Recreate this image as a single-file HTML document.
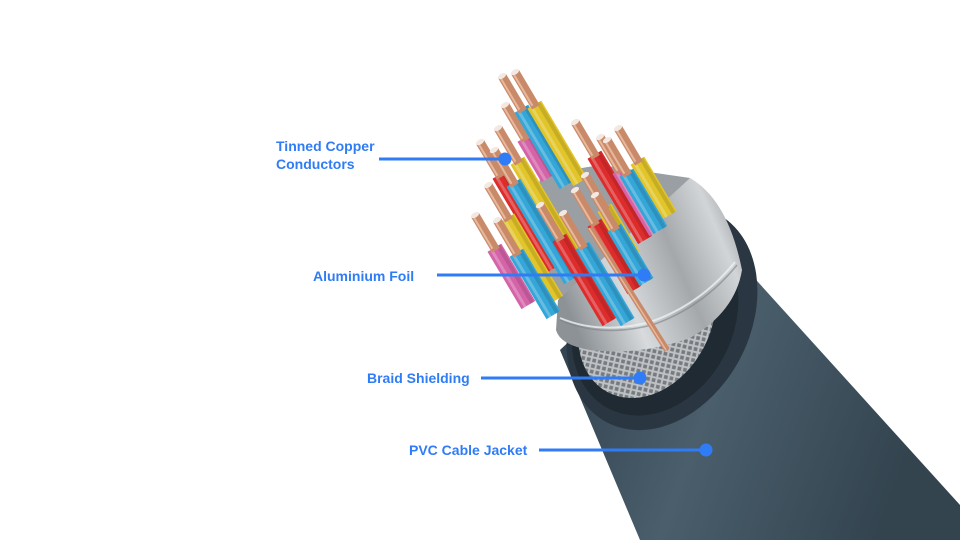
<!DOCTYPE html>
<html><head><meta charset="utf-8"><style>
html,body{margin:0;padding:0;background:#fff}
.l{position:absolute;color:#2f7cf6;font:bold 14px "Liberation Sans",sans-serif;line-height:18px;white-space:nowrap}
</style></head><body>
<div style="position:relative;width:960px;height:540px;overflow:hidden">
<svg width="960" height="540" viewBox="0 0 960 540" style="position:absolute;left:0;top:0">
<defs>
<linearGradient id="jk" x1="0" y1="0" x2="1" y2="0.3">
<stop offset="0" stop-color="#2d3c48"/><stop offset="0.5" stop-color="#4a5e6c"/><stop offset="1" stop-color="#33444f"/>
</linearGradient>
<linearGradient id="fo" x1="0" y1="0.6" x2="1" y2="0.2">
<stop offset="0" stop-color="#8d9296"/><stop offset="0.3" stop-color="#d8dbdd"/><stop offset="0.6" stop-color="#a4a8ab"/><stop offset="0.85" stop-color="#d2d5d7"/><stop offset="1" stop-color="#9a9ea2"/>
</linearGradient>
<pattern id="br" width="8" height="8" patternUnits="userSpaceOnUse" patternTransform="rotate(30)">
<rect width="8" height="8" fill="#767b80"/><path d="M0 0L8 8M8 0L0 8" stroke="#bfc2c5" stroke-width="2"/>
</pattern>
</defs>
<polygon points="560,350 700,218 960,505 960,540 640,540" fill="url(#jk)"/>
<ellipse cx="662" cy="318" rx="118" ry="88" transform="rotate(-62 662 318)" fill="#2a3742"/>
<ellipse cx="655" cy="320" rx="100" ry="78" transform="rotate(-62 655 320)" fill="#1f2a33"/>
<ellipse cx="647" cy="318" rx="84" ry="64" transform="rotate(-62 647 318)" fill="url(#br)"/>
<!-- inner bundles behind wires -->
<polygon points="540,175 600,165 690,178 600,290 560,300 535,250" fill="#9a9fa3"/>
<!-- foil -->
<path d="M558,300 L690,178 Q728,200 742,270 Q735,312 690,338 Q640,356 590,350 Q560,345 556,330 Z" fill="url(#fo)"/>
<path d="M560,318 Q600,335 650,322 Q700,305 735,262" fill="none" stroke="#eef0f1" stroke-width="2" opacity="0.8"/>
<path d="M560,320 Q600,338 652,325 Q702,308 737,265" fill="none" stroke="#7d8286" stroke-width="1.5" opacity="0.6"/>
<g id="w"></g>
<line x1="590" y1="228" x2="667" y2="350" stroke="#c98a6a" stroke-width="6"/>
<line x1="589" y1="228" x2="666" y2="350" stroke="#e8b89c" stroke-width="1.5"/>
</svg>
<div class="l" style="left:276px;top:137px">Tinned Copper<br>Conductors</div>
<div class="l" style="left:313px;top:267px">Aluminium Foil</div>
<div class="l" style="left:367px;top:369px">Braid Shielding</div>
<div class="l" style="left:409px;top:441px">PVC Cable Jacket</div>
<svg width="960" height="540" style="position:absolute;left:0;top:0">
<g fill="#2f7cf6" stroke="#2f7cf6" stroke-width="3">
<line x1="379" y1="159" x2="505" y2="159"/><circle cx="505" cy="159" r="5"/>
<line x1="437" y1="275" x2="644" y2="275"/><circle cx="644" cy="275" r="5"/>
<line x1="481" y1="378" x2="640" y2="378"/><circle cx="640" cy="378" r="5"/>
<line x1="539" y1="450" x2="706" y2="450"/><circle cx="706" cy="450" r="5"/>
</g></svg>
<script>
var g=document.getElementById('w'),ns='http://www.w3.org/2000/svg';
var dx=0.51,dy=0.86;
var C={y:'#e2c52a',b:'#35a6d8',p:'#d563a8',r:'#dd2c2c'};
var W=[[505,105,'p',178],[502,76,'b',185],[515,72,'y',182],[575,122,'r',240],[600,137,'p',232],[618,128,'y',215],[607,140,'b',230],[585,175,'y',255],[498,128,'y',260],[480,142,'r',268],[494,150,'b',280],[575,190,'r',290],[595,195,'b',282],[488,185,'y',300],[475,215,'p',305],[497,220,'b',315],[540,205,'r',322],[563,213,'b',322]];
function ln(x1,y1,x2,y2,c,w){var l=document.createElementNS(ns,'line');l.setAttribute('x1',x1);l.setAttribute('y1',y1);l.setAttribute('x2',x2);l.setAttribute('y2',y2);l.setAttribute('stroke',c);l.setAttribute('stroke-width',w);g.appendChild(l);}
W.forEach(function(a){var x=a[0],y=a[1],cl=38;var x2=x+dx*cl,y2=y+dy*cl;var L=(a[3]-y2)/dy;
ln(x2,y2,x2+dx*L,y2+dy*L,C[a[2]],16);
ln(x2-3,y2+2,x2+dx*L-3,y2+dy*L+2,'rgba(255,255,255,0.25)',3);
ln(x2+4,y2-2,x2+dx*L+4,y2+dy*L-2,'rgba(0,0,0,0.12)',4);
ln(x,y,x2+dx*3,y2+dy*3,'#c98a6a',9);ln(x-2,y+1,x2-2,y2+1,'#e8b89c',2);
var e=document.createElementNS(ns,'ellipse');e.setAttribute('cx',x);e.setAttribute('cy',y);e.setAttribute('rx',4.5);e.setAttribute('ry',2.5);e.setAttribute('fill','#f4e8e2');e.setAttribute('transform','rotate(-31 '+x+' '+y+')');g.appendChild(e);});
</script>
</div></body></html>
